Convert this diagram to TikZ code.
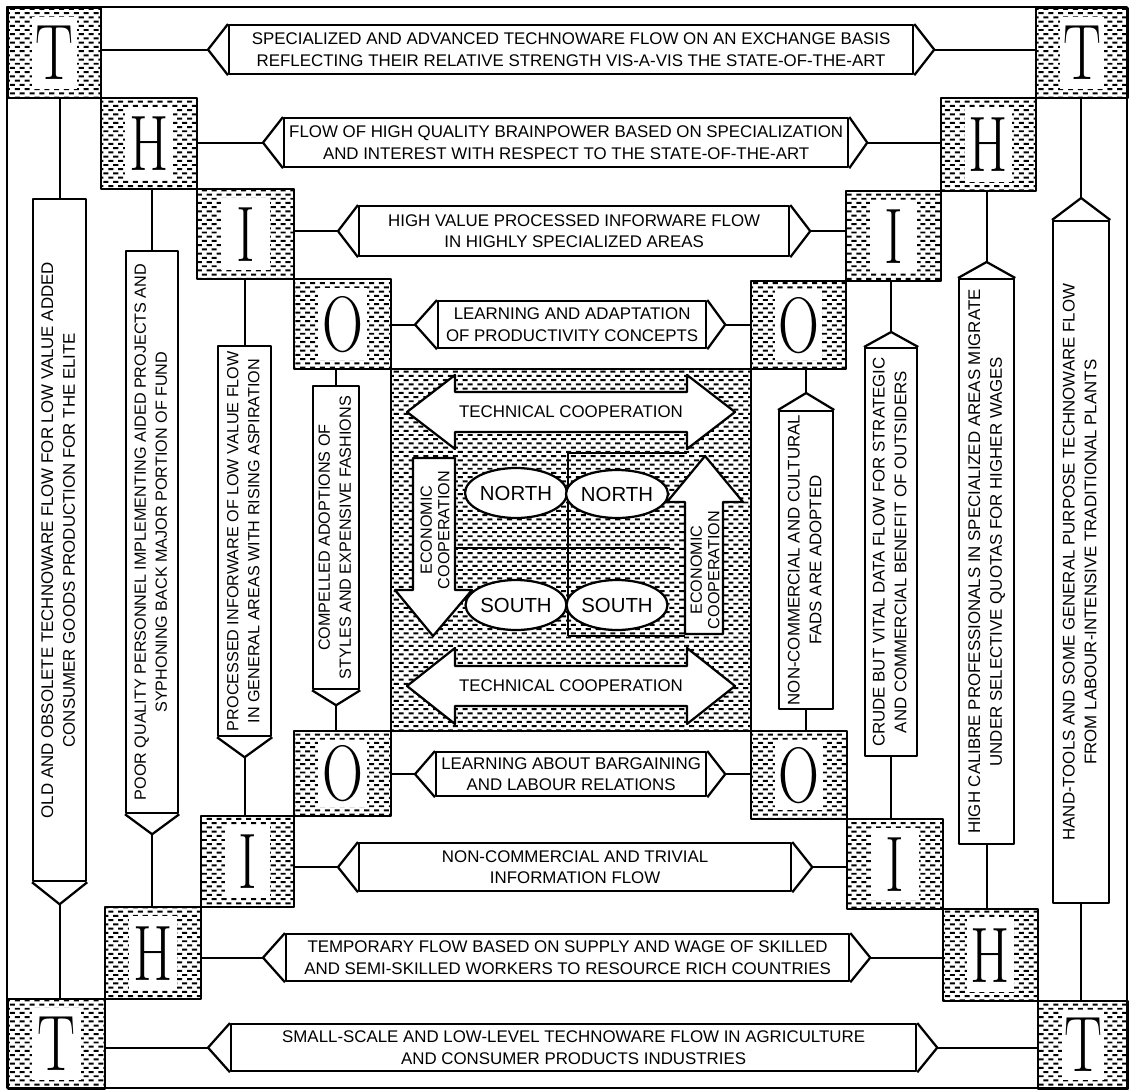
\documentclass[tikz,border=0pt]{standalone}
\usepackage{graphicx}
\usepackage{fontspec}
\newfontfamily\flowfont{Liberation Sans}
\usetikzlibrary{calc,patterns,shapes.geometric}

% stippled texture of short staggered dashes
\pgfdeclarepatternformonly{dashfill}{\pgfpoint{-0.5pt}{-0.5pt}}{\pgfpoint{7.5pt}{6.5pt}}{\pgfpoint{7pt}{6pt}}{%
  \pgfpathrectangle{\pgfpoint{0pt}{0.8pt}}{\pgfpoint{3.6pt}{1.4pt}}%
  \pgfpathrectangle{\pgfpoint{3.5pt}{3.8pt}}{\pgfpoint{3.6pt}{1.4pt}}%
  \pgfusepath{fill}}

\tikzset{
  outline/.style={line width=1.6pt, line join=round},
  cellbox/.style={outline, draw, pattern=dashfill, inner sep=0pt},
  flowbox/.style={outline, draw, fill=white, inner sep=0pt, align=center,
    font=\flowfont\fontsize{12}{15.5}\selectfont},
  conn/.style={line width=1.5pt},
  glyph/.style={font=\fontsize{56}{56}\selectfont, inner sep=0pt},
  tag/.style={font=\flowfont\fontsize{12}{15}\selectfont, inner sep=0pt, align=center},
  ectag/.style={inner sep=0pt, align=center, rotate=90,
    font=\flowfont\fontsize{11.5}{12.5}\selectfont},
  region/.style={outline, draw, fill=white, ellipse, inner sep=0pt,
    font=\flowfont\fontsize{14.5}{14.5}\selectfont},
}

% letter cell: name, x1, y1, x2, y2, letter
\newcommand\lettercell[6]{%
  \node[cellbox, anchor=north west, minimum width={(#4-#2)*0.025cm},
        minimum height={(#5-#3)*0.025cm}] (#1) at (#2,#3) {};
  \fill[white] ($(#1.north west)+(25,10)$) rectangle ($(#1.south east)+(-25,-10)$);
  \node[glyph] (#1-g) at (#1) {\scalebox{0.72}[1]{#6}};
}
% horizontal flow: name, x1, y1, x2, y2, left tip, right tip, text
\newcommand\hflow[8]{%
  \node[flowbox, anchor=north west, minimum width={(#4-#2)*0.025cm},
        minimum height={(#5-#3)*0.025cm}] (#1) at (#2,#3) {#8};
  \coordinate (#1-w) at ($(#1.west)+(-#6,0)$);
  \coordinate (#1-e) at ($(#1.east)+(#7,0)$);
  \draw[outline] (#1.north west) -- (#1-w) -- (#1.south west);
  \draw[outline] (#1.north east) -- (#1-e) -- (#1.south east);
}
% vertical flow pointing down: name, x1, y1, x2, y2, tip, content
\newcommand\vflowdown[7]{%
  \node[flowbox, anchor=north west, minimum width={(#4-#2)*0.025cm},
        minimum height={(#5-#3)*0.025cm}] (#1) at (#2,#3) {#7};
  \coordinate (#1-s) at ($(#1.south)+(0,#6)$);
  \draw[outline] (#1.south west) -- (#1-s) -- (#1.south east);
}
% vertical flow pointing up: name, x1, y1, x2, y2, tip, content
\newcommand\vflowup[7]{%
  \node[flowbox, anchor=north west, minimum width={(#4-#2)*0.025cm},
        minimum height={(#5-#3)*0.025cm}] (#1) at (#2,#3) {#7};
  \coordinate (#1-n) at ($(#1.north)+(0,-#6)$);
  \draw[outline] (#1.north west) -- (#1-n) -- (#1.north east);
}
\newcommand\vlines[1]{\rotatebox{90}{\begin{tabular}{@{}c@{}}#1\end{tabular}}}

\begin{document}
\begin{tikzpicture}[x=0.025cm, y=-0.025cm]
\useasboundingbox (0,0) rectangle (1129,1091);

% outer frame
\draw[outline] (7,7) rectangle (1127,1088);

% central field
\node[cellbox, anchor=north west, minimum width={360*0.025cm}, minimum height={362*0.025cm}] (core) at (390,368) {};

% technical cooperation arrows
\filldraw[outline, fill=white] (407,412) -- (455,375) -- (455,392) -- (687,392) -- (687,375)
  -- (735,412) -- (687,449) -- (687,432) -- (455,432) -- (455,449) -- cycle;
\node[tag] (tc1) at (571,412) {TECHNICAL COOPERATION};
\filldraw[outline, fill=white] (407,686) -- (455,648) -- (455,666) -- (687,666) -- (687,648)
  -- (735,686) -- (687,724) -- (687,706) -- (455,706) -- (455,724) -- cycle;
\node[tag] (tc2) at (571,686) {TECHNICAL COOPERATION};

% economic cooperation arrows
\filldraw[outline, fill=white] (413,458) -- (455,458) -- (455,590) -- (472,590) -- (433,636)
  -- (395,590) -- (413,590) -- cycle;
\node[ectag] (ec1) at (435,530) {ECONOMIC\\COOPERATION};
\filldraw[outline, fill=white] (685,634) -- (723,634) -- (723,502) -- (743,502) -- (705,456)
  -- (667,502) -- (685,502) -- cycle;
\node[ectag] (ec2) at (705,570) {ECONOMIC\\COOPERATION};

% quadrant lines
\draw[conn] (568,453) -- (568,636);
\draw[conn] (568,453) -- (687,453);
\draw[conn] (568,636) -- (685,636);
\draw[conn] (455,548) -- (670,548);

% north and south regions
\node[region, minimum width={87*0.025cm}, minimum height={50*0.025cm}] (nl) at (516,493) {NORTH};
\node[region, minimum width={89*0.025cm}, minimum height={48*0.025cm}] (nr) at (617,494) {NORTH};
\node[region, minimum width={87*0.025cm}, minimum height={50*0.025cm}] (sl) at (516,605) {SOUTH};
\node[region, minimum width={89*0.025cm}, minimum height={50*0.025cm}] (sr) at (617,605) {SOUTH};

% letter cells, top left staircase
\lettercell{TL1}{7}{7}{100}{97}{T}
\lettercell{HL1}{100}{97}{196}{188}{H}
\lettercell{IL1}{196}{188}{293}{278}{I}
\lettercell{OL1}{293}{278}{390}{368}{O}
% top right
\lettercell{TR1}{1035}{7}{1127}{97}{T}
\lettercell{HR1}{940}{97}{1035}{190}{H}
\lettercell{IR1}{845}{190}{940}{280}{I}
\lettercell{OR1}{750}{280}{845}{368}{O}
% bottom left
\lettercell{OL2}{293}{730}{390}{815}{O}
\lettercell{IL2}{200}{815}{293}{906}{I}
\lettercell{HL2}{104}{906}{200}{998}{H}
\lettercell{TL2}{7}{998}{104}{1088}{T}
% bottom right
\lettercell{OR2}{750}{730}{846}{818}{O}
\lettercell{IR2}{846}{818}{942}{908}{I}
\lettercell{HR2}{942}{908}{1037}{1000}{H}
\lettercell{TR2}{1037}{1000}{1127}{1088}{T}

% horizontal flows
\hflow{FT1}{228}{24}{912}{73}{20}{20}{SPECIALIZED AND ADVANCED TECHNOWARE FLOW ON AN EXCHANGE BASIS\\REFLECTING THEIR RELATIVE STRENGTH VIS-A-VIS THE STATE-OF-THE-ART}
\hflow{FH1}{283}{117}{847}{166}{20}{18}{FLOW OF HIGH QUALITY BRAINPOWER BASED ON SPECIALIZATION\\AND INTEREST WITH RESPECT TO THE STATE-OF-THE-ART}
\hflow{FI1}{358}{205}{788}{255}{20}{20}{HIGH VALUE PROCESSED INFORWARE FLOW\\IN HIGHLY SPECIALIZED AREAS}
\hflow{FO1}{437}{300}{705}{347}{22}{18}{LEARNING AND ADAPTATION\\OF PRODUCTIVITY CONCEPTS}
\hflow{FO2}{435}{751}{705}{795}{20}{18}{LEARNING ABOUT BARGAINING\\AND LABOUR RELATIONS}
\hflow{FI2}{358}{842}{790}{890}{20}{20}{NON-COMMERCIAL AND TRIVIAL\\INFORMATION FLOW}
\hflow{FH2}{285}{933}{848}{980}{22}{20}{TEMPORARY FLOW BASED ON SUPPLY AND WAGE OF SKILLED\\AND SEMI-SKILLED WORKERS TO RESOURCE RICH COUNTRIES}
\hflow{FT2}{230}{1023}{915}{1070}{22}{20}{SMALL-SCALE AND LOW-LEVEL TECHNOWARE FLOW IN AGRICULTURE\\AND CONSUMER PRODUCTS INDUSTRIES}

% vertical flows, left side
\vflowdown{VT1}{32}{198}{85}{880}{22}{\vlines{OLD AND OBSOLETE TECHNOWARE FLOW FOR LOW VALUE ADDED\\CONSUMER GOODS PRODUCTION FOR THE ELITE}}
\vflowdown{VH1}{125}{250}{177}{812}{20}{\fontsize{11.5}{15}\selectfont\vlines{POOR QUALITY PERSONNEL IMPLEMENTING AIDED PROJECTS AND\\SYPHONING BACK MAJOR PORTION OF FUND}}
\vflowdown{VI1}{217}{345}{270}{735}{20}{\fontsize{11.5}{15}\selectfont\vlines{PROCESSED INFORWARE OF LOW VALUE FLOW\\IN GENERAL AREAS WITH RISING ASPIRATION}}
\vflowdown{VO1}{312}{385}{358}{688}{15}{\fontsize{11.5}{15}\selectfont\vlines{COMPELLED ADOPTIONS OF\\STYLES AND EXPENSIVE FASHIONS}}
% vertical flows, right side
\vflowup{VO2}{778}{410}{832}{708}{17}{\vlines{NON-COMMERCIAL AND CULTURAL\\FADS ARE ADOPTED}}
\vflowup{VI2}{864}{347}{916}{755}{15}{\vlines{CRUDE BUT VITAL DATA FLOW FOR STRATEGIC\\AND COMMERCIAL BENEFIT OF OUTSIDERS}}
\vflowup{VH2}{958}{278}{1013}{843}{16}{\vlines{HIGH CALIBRE PROFESSIONALS IN SPECIALIZED AREAS MIGRATE\\UNDER SELECTIVE QUOTAS FOR HIGHER WAGES}}
\vflowup{VT2}{1052}{220}{1108}{902}{22}{\vlines{HAND-TOOLS AND SOME GENERAL PURPOSE TECHNOWARE FLOW\\FROM LABOUR-INTENSIVE TRADITIONAL PLANTS}}

% connectors of the horizontal flows
\foreach \f/\a/\b in {FT1/TL1/TR1, FH1/HL1/HR1, FI1/IL1/IR1, FO1/OL1/OR1,
                      FO2/OL2/OR2, FI2/IL2/IR2, FH2/HL2/HR2, FT2/TL2/TR2} {
  \draw[conn] (\a.east |- \f-w) -- (\f-w);
  \draw[conn] (\f-e) -- (\f-e -| \b.west);
}
% connectors of the vertical flows
\foreach \f/\a/\b in {VT1/TL1/TL2, VH1/HL1/HL2, VI1/IL1/IL2, VO1/OL1/OL2} {
  \draw[conn] (\f.north) -- (\f.north |- \a.south);
  \draw[conn] (\f-s) -- (\f-s |- \b.north);
}
\foreach \f/\a/\b in {VO2/OR1/OR2, VI2/IR1/IR2, VH2/HR1/HR2, VT2/TR1/TR2} {
  \draw[conn] (\f-n) -- (\f-n |- \a.south);
  \draw[conn] (\f.south) -- (\f.south |- \b.north);
}
\end{tikzpicture}
\end{document}
